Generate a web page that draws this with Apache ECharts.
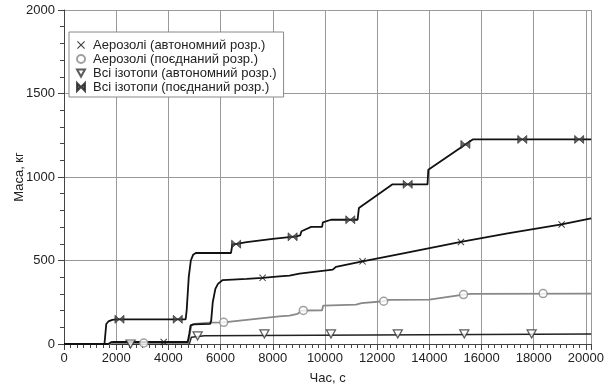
<!DOCTYPE html>
<html>
<head>
<meta charset="utf-8">
<script src="https://cdn.jsdelivr.net/npm/echarts@6/dist/echarts.min.js"></script>
<style>html,body{margin:0;padding:0;background:#fff;}#c{width:607px;height:390px;}</style>
</head>
<body>
<div id="c"></div>
<script>
// ---- data (time s, mass kg) ----
var seriesNames = [
  'Аерозолі (автономний розр.)',
  'Аерозолі (поєднаний розр.)',
  'Всі ізотопи (автономний розр.)',
  'Всі ізотопи (поєднаний розр.)'
];
var xTicks = [0, 2000, 4000, 6000, 8000, 10000, 12000, 14000, 16000, 18000, 20000];
var yTicks = [0, 500, 1000, 1500, 2000];

var aeroAutoLine = [[0,0],[1700,0],[1800,11],[1900,12],[4740,12],[4800,60],[4850,112],[4950,118],[5600,120],[5640,140],[5700,250],[5800,330],[5900,360],[5960,370],[6080,383],[7000,390],[7610,396],[8250,405],[8640,410],[9020,421],[10300,445],[10420,462],[11440,495],[13000,543],[15210,611],[17000,662],[19070,716],[20200,752]];
var aeroJointLine = [[0,0],[1750,0],[1850,6],[4760,6],[4820,60],[4880,110],[5000,120],[5570,128],[6120,130],[7000,145],[8250,166],[8640,170],[8950,180],[9000,190],[9100,200],[9890,202],[9930,230],[11190,236],[11400,245],[12250,256],[12450,264],[14000,266],[15310,296],[15600,300],[20200,302]];
var isoAutoLine = [[0,0],[4800,0],[4880,40],[4940,47],[5380,50],[5450,58],[20200,60]];
var isoJointLine = [[0,0],[1550,0],[1620,120],[1700,135],[1850,144],[2000,148],[4660,148],[4700,200],[4780,400],[4860,500],[4950,535],[5050,545],[6400,545],[6450,595],[7000,610],[8000,630],[8900,645],[9050,650],[9100,675],[9470,701],[9890,701],[9920,728],[10230,744],[11250,744],[11300,814],[12590,956],[13930,956],[13960,1043],[15660,1225],[20200,1225]];

var aeroAutoMarks = [[3820,12],[7610,396],[11440,495],[15210,611],[19070,716]];
var aeroJointMarks = [[3055,6],[6120,130],[9170,201],[12250,256],[15310,296],[18360,302]];
var isoAutoMarks = [[2550,0],[5120,48],[7680,60],[10230,60],[12790,60],[15340,60],[17920,60]];
var isoJointMarks = [[2125,148],[4360,148],[6595,598],[8760,642],[10970,744],[13170,956],[15380,1195],[17560,1225],[19740,1225]];

// ---- symbols ----
var symX = 'path://M0,1L1,0L5,4L9,0L10,1L6,5L10,9L9,10L5,6L1,10L0,9L4,5Z';
var symTriDown = 'path://M0,0L10,0L5,9Z';
var symBowtie = 'path://M0,0L5,5L0,10ZM10,0L5,5L10,10Z';

var chart = echarts.init(document.getElementById('c'), null, {renderer: 'canvas'});

function lineSeries(data, color, width) {
  return {
    type: 'line', data: data, showSymbol: false, symbol: 'none',
    lineStyle: {color: color, width: width}, z: 2, silent: true, animation: false
  };
}
function markSeries(name, data, symbol, size, itemStyle) {
  return {
    type: 'scatter', name: name, data: data, symbol: symbol, symbolSize: size,
    itemStyle: itemStyle, z: 5, animation: false
  };
}

var FONT = 'Liberation Sans, Arial, sans-serif';
var option = {
  animation: false,
  backgroundColor: '#fff',
  grid: {left: 64, right: 15, top: 10, bottom: 45, containLabel: false},
  legend: {
    orient: 'vertical', left: 69, top: 32,
    data: seriesNames,
    backgroundColor: '#fff', borderColor: '#888', borderWidth: 1,
    padding: [6, 7, 3, 7], itemGap: 0, itemWidth: 8, itemHeight: 8,
    textStyle: {fontFamily: FONT, fontSize: 13, color: '#222', lineHeight: 14, padding: [0, 0, 0, 3]}
  },
  xAxis: {
    type: 'value', min: 0, max: 20200, interval: 2000,
    name: 'Час, с', nameLocation: 'middle', nameGap: 28, nameMoveOverlap: false,
    nameTextStyle: {fontFamily: FONT, fontSize: 13, color: '#222'},
    axisLine: {show: true, lineStyle: {color: '#444', width: 1}},
    axisTick: {show: true, length: 6, lineStyle: {color: '#444'}},
    minorTick: {show: true, splitNumber: 8, length: 4, lineStyle: {color: '#444'}},
    axisLabel: {
      fontFamily: FONT, fontSize: 13, color: '#222', margin: 8,
      formatter: function (v) { return xTicks.indexOf(v) >= 0 ? String(v) : ''; }
    },
    splitLine: {show: true, lineStyle: {color: '#999', width: 1}}
  },
  yAxis: {
    type: 'value', min: 0, max: 2000, interval: 500,
    name: 'Маса, кг', nameLocation: 'middle', nameGap: 38, nameRotate: 90, nameMoveOverlap: false,
    nameTextStyle: {fontFamily: FONT, fontSize: 13, color: '#222'},
    axisLine: {show: true, lineStyle: {color: '#444', width: 1}},
    axisTick: {show: true, length: 6, lineStyle: {color: '#444'}},
    minorTick: {show: true, splitNumber: 5, length: 4, lineStyle: {color: '#444'}},
    axisLabel: {
      fontFamily: FONT, fontSize: 13, color: '#222', margin: 9,
      formatter: function (v) { return yTicks.indexOf(v) >= 0 ? String(v) : ''; }
    },
    splitLine: {show: true, lineStyle: {color: '#999', width: 1}}
  },
  series: [
    lineSeries(isoAutoLine, '#222', 1.5),
    lineSeries(aeroJointLine, '#888', 1.8),
    lineSeries(aeroAutoLine, '#111', 1.8),
    lineSeries(isoJointLine, '#111', 1.8),
    markSeries(seriesNames[0], aeroAutoMarks, symX, 7, {color: '#111'}),
    markSeries(seriesNames[1], aeroJointMarks, 'circle', 8, {color: '#fff', borderColor: '#888', borderWidth: 1.5}),
    markSeries(seriesNames[2], isoAutoMarks, symTriDown, [9, 8], {color: '#fff', borderColor: '#333', borderWidth: 1.3}),
    markSeries(seriesNames[3], isoJointMarks, symBowtie, [9, 8], {color: '#444', borderColor: '#222', borderWidth: 0.8})
  ]
};
chart.setOption(option);
</script>
</body>
</html>
